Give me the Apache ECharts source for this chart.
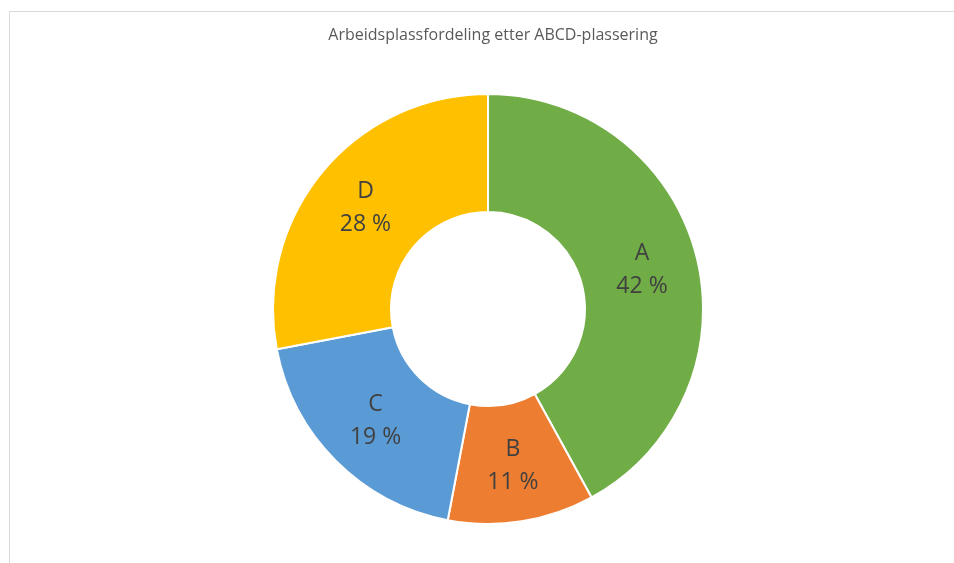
<!DOCTYPE html>
<html>
<head>
<meta charset="utf-8">
<script src="https://cdn.jsdelivr.net/npm/echarts@6/dist/echarts.min.js"></script>
<style>
  html, body { margin: 0; padding: 0; background: #fff; }
  #chart { width: 954px; height: 563px; }
</style>
</head>
<body>
<div id="chart"></div>
<script>
// Workplace distribution by ABCD location class
const categories = ['A', 'B', 'C', 'D'];
const shares = [42, 11, 19, 28];
const colors = ['#70AD47', '#ED7D31', '#5B9BD5', '#FFC000'];
const titleText = 'Arbeidsplassfordeling etter ABCD-plassering';

const chart = echarts.init(document.getElementById('chart'), null, { renderer: 'canvas' });

chart.setOption({
  backgroundColor: '#ffffff',
  animation: false,
  title: {
    text: titleText,
    left: 488,
    textAlign: 'center',
    top: 22,
    textStyle: {
      fontFamily: 'Open Sans',
      fontSize: 16,
      fontWeight: 'normal',
      color: '#595959'
    }
  },
  graphic: [{
    type: 'rect',
    silent: true,
    shape: { x: 9.5, y: 11.5, width: 1000, height: 600 },
    style: { fill: 'none', stroke: '#d9d9d9', lineWidth: 1 }
  }],
  series: [{
    type: 'pie',
    center: [488, 309],
    radius: [97, 215],
    startAngle: 90,
    clockwise: true,
    itemStyle: { borderColor: '#ffffff', borderWidth: 2 },
    label: {
      show: true,
      position: 'inside',
      formatter: p => p.name + '\n' + p.value + ' %',
      fontFamily: 'Open Sans',
      fontSize: 23,
      lineHeight: 33,
      color: '#404040'
    },
    labelLine: { show: false },
    emphasis: { disabled: true },
    data: categories.map((c, i) => ({
      name: c,
      value: shares[i],
      itemStyle: { color: colors[i] }
    }))
  }]
});
</script>
</body>
</html>
